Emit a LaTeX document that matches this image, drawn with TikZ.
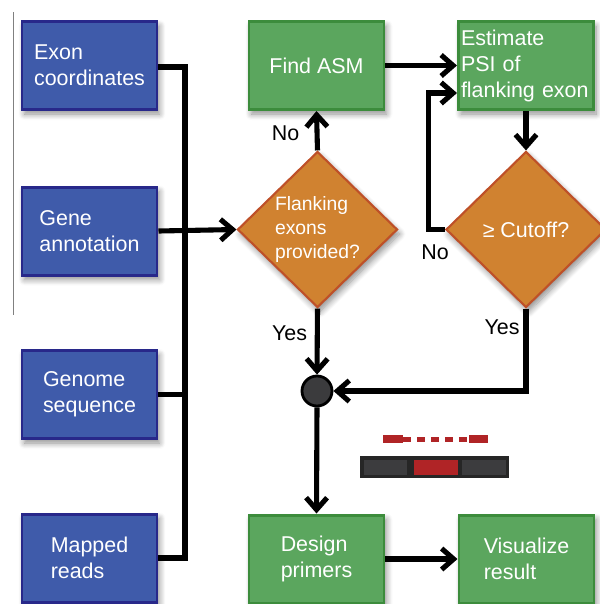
\documentclass[tikz,border=0pt]{standalone}
\usepackage{fontspec}
\setmainfont{Liberation Sans}
\usepackage{xcolor}
\usetikzlibrary{shapes.geometric}
\usetikzlibrary{arrows.meta}
\usetikzlibrary{shadows.blur}
\definecolor{inputfill}{HTML}{3F5BAA}
\definecolor{inputline}{HTML}{28288A}
\definecolor{stepfill}{HTML}{5BA65E}
\definecolor{stepline}{HTML}{3C8C3C}
\definecolor{askfill}{HTML}{D08230}
\definecolor{askline}{HTML}{BE5028}
\definecolor{hubfill}{HTML}{3B3B3D}
\definecolor{exonred}{HTML}{B02426}
\definecolor{exongray}{HTML}{3C3C3E}
\tikzset{
 shade/.style={blur shadow={shadow blur steps=8, shadow blur radius=0.12cm, shadow xshift=0.05cm, shadow yshift=-0.09cm, shadow opacity=45}},
 inbox/.style={draw=inputline, fill=inputfill, line width=1.7pt, minimum width=2.7cm,
   minimum height=1.76cm, text=white, align=left, font=\fontsize{12.2}{14.8}\selectfont, shade},
 stepbox/.style={draw=stepline, fill=stepfill, line width=1.7pt, minimum width=2.7cm,
   minimum height=1.76cm, text=white, align=left, font=\fontsize{12.2}{14.8}\selectfont, shade},
 choice/.style={diamond, draw=askline, fill=askfill, line width=1.2pt, aspect=1.03, inner sep=0pt,
   minimum width=3.2cm, minimum height=3.12cm, text=white, align=left, shade},
 hub/.style={circle, draw=black, fill=hubfill, line width=1.6pt, minimum size=0.6cm, inner sep=0pt},
 tag/.style={font=\fontsize{12.2}{14.8}\selectfont, inner sep=0pt},
 wire/.style={line width=2.9pt},
 flow/.style={wire, -{Straight Barb[length=0.24cm, width=0.42cm]}},
 }

\begin{document}
\begin{tikzpicture}
        \useasboundingbox (0,0) rectangle (12,-12.08);
        \draw[gray, line width=0.8pt] (0.27,-0.24) -- (0.27,-6.3);
        \node[inbox] (exon) at (1.79,-1.31) {Exon\\coordinates};
        \node[inbox] (gene) at (1.79,-4.62) {Gene\\annotation};
        \node[inbox] (genome) at (1.79,-7.89) {Genome\\sequence};
        \node[inbox] (mapped) at (1.79,-11.16) {Mapped\\reads};
        \node[stepbox] (findasm) at (6.33,-1.31) {Find ASM};
        \node[stepbox, text width=2.6cm, inner sep=0.04cm] (estimate) at (10.52,-1.31) {Estimate\\PSI of\\flanking exon};
        \node[choice, font=\fontsize{11}{13.6}\selectfont] (flank) at (6.35,-4.59) {Flanking\\exons\\provided?};
        \node[choice, font=\fontsize{12.2}{14.8}\selectfont] (cutoff) at (10.52,-4.59) {≥ Cutoff?};
        \node[hub] (join) at (6.34,-7.82) {};
        \node[stepbox] (design) at (6.33,-11.18) {Design\\primers};
        \node[stepbox] (visual) at (10.53,-11.18) {Visualize\\result};
        \coordinate (bustop) at (3.7,-1.34);
        \coordinate (busbot) at (3.7,-11.16);
        \draw[wire] (exon.east |- bustop) -- (bustop) -- (busbot) -- (mapped.east);
        \draw[wire] (genome.east) -- (genome.east -| bustop);
        \draw[flow] (gene.east) -- (flank.west);
        \draw[flow] (flank.north) -- (findasm.south);
        \draw[flow] (findasm.east) -- (estimate.west);
        \draw[flow] (estimate.south) -- (cutoff.north);
        \draw[flow] (cutoff.west) -- ++(-0.32,0) |- ([yshift=-0.55cm]estimate.west);
        \draw[flow] (flank.south) -- (join.north);
        \draw[flow] (cutoff.south) |- (join.east);
        \draw[flow] (join.south) -- (design.north);
        \draw[flow] (design.east) -- (visual.west);
        \node[tag] (noup) at (5.71,-2.66) {No};
        \node[tag] (noback) at (8.70,-5.04) {No};
        \node[tag] (yesdown) at (5.79,-6.66) {Yes};
        \node[tag] (yesback) at (10.04,-6.54) {Yes};
        \fill[exonred] (7.66,-8.70) rectangle (8.06,-8.86);
        \fill[exonred] (9.38,-8.70) rectangle (9.76,-8.86);
        \draw[exonred, line width=0.1cm, dash pattern=on 0.16cm off 0.12cm] (8.06,-8.78) -- (9.38,-8.78);
        \fill[black!85] (7.21,-9.12) rectangle (10.19,-9.55);
        \fill[exongray] (7.29,-9.19) rectangle (8.15,-9.50);
        \fill[exonred] (8.29,-9.19) rectangle (9.17,-9.50);
        \fill[exongray] (9.25,-9.19) rectangle (10.13,-9.50);
    \end{tikzpicture}
\end{document}
